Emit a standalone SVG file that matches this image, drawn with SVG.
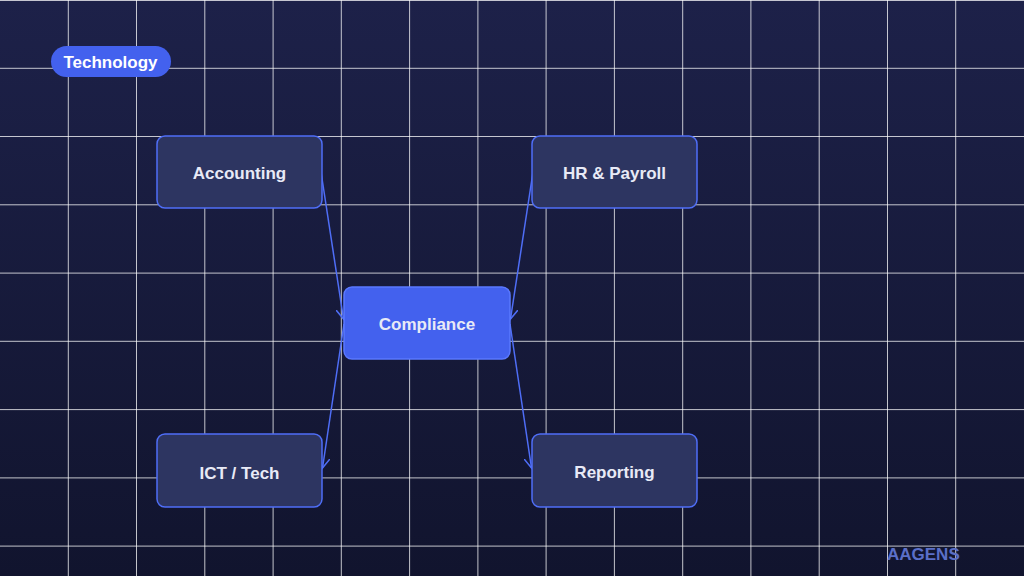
<svg xmlns="http://www.w3.org/2000/svg" width="1024" height="576" viewBox="0 0 1024 576">
<defs>
<linearGradient id="bg" x1="0" y1="0" x2="0" y2="1">
<stop offset="0" stop-color="#1d2149"/>
<stop offset="1" stop-color="#11142e"/>
</linearGradient>
<marker id="arr" markerUnits="userSpaceOnUse" markerWidth="12" markerHeight="12" refX="10" refY="6" orient="auto">
<path d="M0,0 L10,6 L0,12" fill="none" stroke="#4f6ef7" stroke-width="1.5"/>
</marker>
</defs>
<style>
.grid line{stroke:#ffffff;stroke-opacity:0.75;stroke-width:1}
.node rect{fill:#2d3561;stroke:#4f6ef7;stroke-width:1.5}
.hub rect{fill:#4361ee;stroke:#5a78ff;stroke-width:1.5}
.lbl{font-family:"Liberation Sans",Arial,sans-serif;font-weight:bold;font-size:17px;fill:#e8eaf6;text-anchor:middle;dominant-baseline:central}
.conn line{stroke:#4f6ef7;stroke-width:1.5;marker-end:url(#arr)}
</style>
<rect width="1024" height="576" fill="url(#bg)"/>
<g class="grid">
<line x1="68.3" y1="0" x2="68.3" y2="576"/>
<line x1="136.5" y1="0" x2="136.5" y2="576"/>
<line x1="204.8" y1="0" x2="204.8" y2="576"/>
<line x1="273.1" y1="0" x2="273.1" y2="576"/>
<line x1="341.3" y1="0" x2="341.3" y2="576"/>
<line x1="409.6" y1="0" x2="409.6" y2="576"/>
<line x1="477.9" y1="0" x2="477.9" y2="576"/>
<line x1="546.1" y1="0" x2="546.1" y2="576"/>
<line x1="614.4" y1="0" x2="614.4" y2="576"/>
<line x1="682.7" y1="0" x2="682.7" y2="576"/>
<line x1="750.9" y1="0" x2="750.9" y2="576"/>
<line x1="819.2" y1="0" x2="819.2" y2="576"/>
<line x1="887.5" y1="0" x2="887.5" y2="576"/>
<line x1="955.7" y1="0" x2="955.7" y2="576"/>
<line x1="0" y1="0.5" x2="1024" y2="0.5"/>
<line x1="0" y1="68.3" x2="1024" y2="68.3"/>
<line x1="0" y1="136.5" x2="1024" y2="136.5"/>
<line x1="0" y1="204.8" x2="1024" y2="204.8"/>
<line x1="0" y1="273.1" x2="1024" y2="273.1"/>
<line x1="0" y1="341.3" x2="1024" y2="341.3"/>
<line x1="0" y1="409.6" x2="1024" y2="409.6"/>
<line x1="0" y1="477.9" x2="1024" y2="477.9"/>
<line x1="0" y1="546.1" x2="1024" y2="546.1"/>
</g>
<g id="badge">
<rect x="51" y="46" width="120" height="31" rx="15.5" fill="#4361ee"/>
<text x="110.5" y="62.5" font-family="'Liberation Sans',Arial,sans-serif" font-weight="bold" font-size="17" fill="#ffffff" text-anchor="middle" dominant-baseline="central">Technology</text>
</g>
<g class="conn">
<line x1="321" y1="172" x2="343.5" y2="319"/>
<line x1="533" y1="172" x2="510.5" y2="319"/>
<line x1="344" y1="324" x2="322.5" y2="468"/>
<line x1="510" y1="324" x2="531.5" y2="468"/>
</g>
<g id="accounting" class="node">
<rect x="157" y="136" width="165" height="72" rx="8"/>
<text class="lbl" x="239.5" y="173">Accounting</text>
</g>
<g id="hr-payroll" class="node">
<rect x="532" y="136" width="165" height="72" rx="8"/>
<text class="lbl" x="614.5" y="173">HR &amp; Payroll</text>
</g>
<g id="compliance" class="hub">
<rect x="344" y="287" width="166" height="72" rx="8"/>
<text class="lbl" x="427" y="324">Compliance</text>
</g>
<g id="ict-tech" class="node">
<rect x="157" y="434" width="165" height="73" rx="8"/>
<text class="lbl" x="239.5" y="473">ICT / Tech</text>
</g>
<g id="reporting" class="node">
<rect x="532" y="434" width="165" height="73" rx="8"/>
<text class="lbl" x="614.5" y="472">Reporting</text>
</g>
<text x="887" y="554" font-family="'Liberation Sans',Arial,sans-serif" font-weight="bold" font-size="17" fill="#5b6fc8" dominant-baseline="central">AAGENS</text>
</svg>
